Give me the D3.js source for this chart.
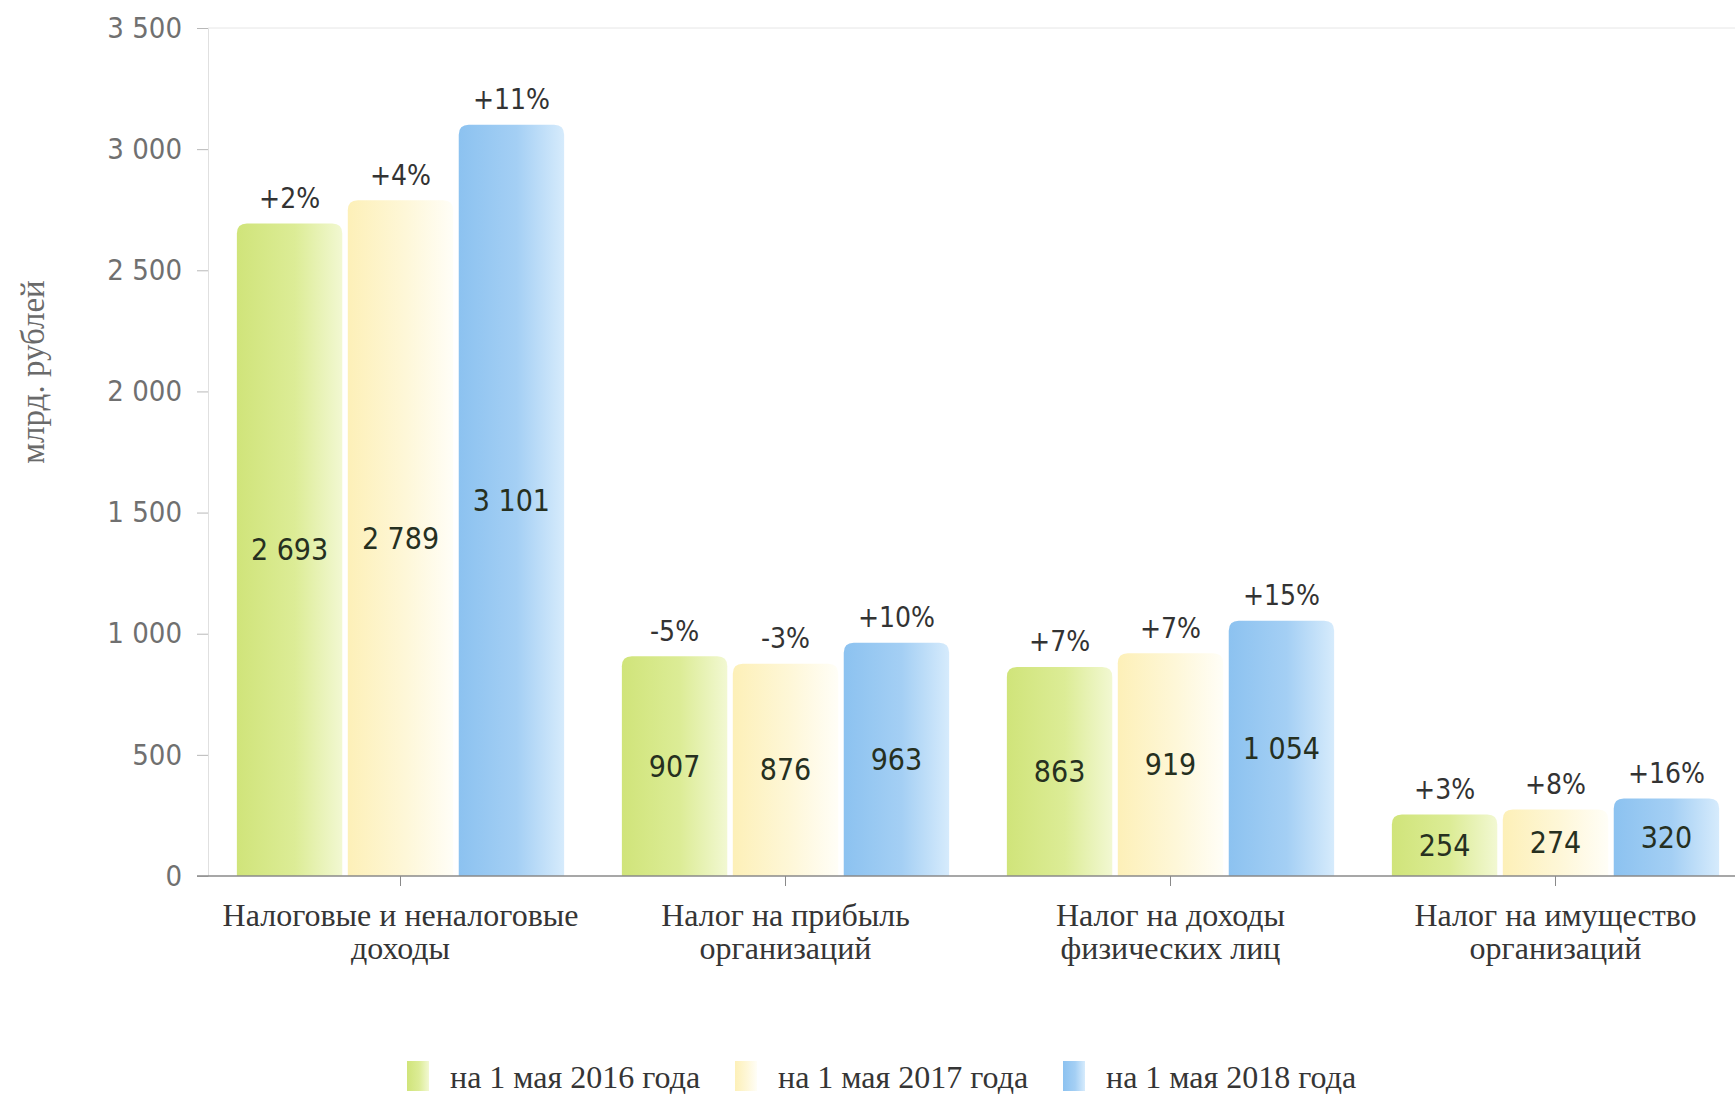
<html>
    <head>
        <meta charset="utf-8">
        <style>
            body {
                margin: 0;
                background: white;
            }

            svg {
                display: block;
            }

            .y .tick text {
                font-family: "DejaVu Sans Condensed", "Liberation Sans", sans-serif;
                font-size: 29px;
                fill: #707070;
            }

            .y .tick line {
                stroke: #b8b8b8;
            }

            .x .tick line {
                stroke: #8a8a8a;
            }

            .cat-label {
                font-family: "Liberation Serif", serif;
                font-size: 32px;
                fill: #353535;
            }

            .val-label {
                font-family: "DejaVu Sans Condensed", "Liberation Sans", sans-serif;
                font-size: 30px;
                fill: #26301f;
            }

            .pct-label {
                font-family: "DejaVu Sans Condensed", "Liberation Sans", sans-serif;
                font-size: 28px;
                fill: #333;
            }

            .legend {
                font-family: "Liberation Serif", serif;
                font-size: 32px;
                fill: #353535;
            }

            .y-title {
                font-family: "Liberation Serif", serif;
                font-size: 33px;
                fill: #6a6a6a;
            }
        </style>
    </head>

    <body>
        <svg width="1735" height="1101"></svg>

        <script src="https://d3js.org/d3.v7.min.js"></script>

        <script>

            // data
            let categories = [
                ["Налоговые и неналоговые", "доходы"],
                ["Налог на прибыль", "организаций"],
                ["Налог на доходы", "физических лиц"],
                ["Налог на имущество", "организаций"]
            ]

            let seriesNames = ["на 1 мая 2016 года", "на 1 мая 2017 года", "на 1 мая 2018 года"]

            let values2016 = [2693, 907, 863, 254]
            let values2017 = [2789, 876, 919, 274]
            let values2018 = [3101, 963, 1054, 320]

            let pct2016 = ["+2%", "-5%", "+7%", "+3%"]
            let pct2017 = ["+4%", "-3%", "+7%", "+8%"]
            let pct2018 = ["+11%", "+10%", "+15%", "+16%"]

            let yTicks = [0, 500, 1000, 1500, 2000, 2500, 3000, 3500]
            let yTickLabels = ["0", "500", "1 000", "1 500", "2 000", "2 500", "3 000", "3 500"]

            let yTitle = "млрд. рублей"

            // gradient stops for each series: left, middle, right
            let seriesColors = [
                ["#d0e47a", "#dcec96", "#f2f8d2"],
                ["#fdf0b8", "#fef7d8", "#fffef7"],
                ["#8cc2f0", "#a4cff4", "#d6ebfc"]
            ]

            let width = 1735
            let height = 1101
            let margin = {top: 28, bottom: 876, left: 208}

            let svg = d3.select("svg")

            let catKeys = categories.map(d => d[0])
            let allValues = [values2016, values2017, values2018]
            let allPct = [pct2016, pct2017, pct2018]

            let rows = []
            catKeys.forEach((c, i) => {
                seriesNames.forEach((s, j) => {
                    rows.push({cat: c, series: s, idx: j, value: allValues[j][i], pct: allPct[j][i]})
                })
            })

            let y = d3.scaleLinear()
                .domain([0, 3500])
                .range([margin.bottom, margin.top])

            let x0 = d3.scaleBand()
                .domain(catKeys)
                .range([margin.left, margin.left + 1540])
                .paddingInner(0.15)
                .paddingOuter(0.075)

            let x1 = d3.scaleBand()
                .domain(seriesNames)
                .range([0, x0.bandwidth()])
                .paddingInner(0.05)

            // gradients
            let defs = svg.append("defs")
            seriesNames.forEach((s, j) => {
                let g = defs.append("linearGradient")
                    .attr("id", "grad" + j)
                    .attr("x1", "0%").attr("x2", "100%")
                    .attr("y1", "0%").attr("y2", "0%")
                g.append("stop").attr("offset", "0%").attr("stop-color", seriesColors[j][0])
                g.append("stop").attr("offset", "55%").attr("stop-color", seriesColors[j][1])
                g.append("stop").attr("offset", "100%").attr("stop-color", seriesColors[j][2])
            })

            // faint top line
            svg.append("line")
                .attr("x1", margin.left)
                .attr("x2", width)
                .attr("y1", y(3500))
                .attr("y2", y(3500))
                .attr("stroke", "#e6e6e6")

            // y axis
            let yAxis = svg.append("g")
                .attr("class", "y axis")
                .attr("transform", `translate(${margin.left}, 0)`)
                .call(d3.axisLeft(y)
                    .tickValues(yTicks)
                    .tickFormat((d, i) => yTickLabels[i])
                    .tickSize(11)
                    .tickPadding(15))
            yAxis.select(".domain")
                .attr("stroke", "#e0e0e0")

            // bars with rounded tops
            function barPath(x, yTop, w, h, r) {
                r = Math.min(r, h, w / 2)
                return `M${x},${yTop + h}` +
                    `V${yTop + r}` +
                    `Q${x},${yTop} ${x + r},${yTop}` +
                    `H${x + w - r}` +
                    `Q${x + w},${yTop} ${x + w},${yTop + r}` +
                    `V${yTop + h}Z`
            }

            let bars = svg.append("g").attr("class", "bars")

            bars.selectAll("path")
                .data(rows)
                .join("path")
                .attr("fill", d => `url(#grad${d.idx})`)
                .attr("d", d => barPath(
                    x0(d.cat) + x1(d.series),
                    y(d.value),
                    x1.bandwidth(),
                    y(0) - y(d.value),
                    10))

            // x axis
            let xAxis = svg.append("g")
                .attr("class", "x axis")
                .attr("transform", `translate(0, ${y(0)})`)
                .call(d3.axisBottom(x0).tickSize(10).tickSizeOuter(0).tickFormat(""))
            xAxis.select(".domain").remove()

            svg.append("line")
                .attr("x1", margin.left - 11)
                .attr("x2", width)
                .attr("y1", y(0))
                .attr("y2", y(0))
                .attr("stroke", "#8a8a8a")
                .attr("stroke-width", 1.5)

            // value labels in the middle of each bar
            let fmt = d3.formatLocale({decimal: ",", thousands: " ", grouping: [3], currency: ["", ""]}).format(",d")

            svg.append("g")
                .selectAll("text")
                .data(rows)
                .join("text")
                .attr("class", "val-label")
                .attr("text-anchor", "middle")
                .attr("dominant-baseline", "central")
                .attr("x", d => x0(d.cat) + x1(d.series) + x1.bandwidth() / 2)
                .attr("y", d => (y(d.value) + y(0)) / 2)
                .attr("fill", d => d.idx == 2 ? "#1f2d3d" : "#28301c")
                .text(d => fmt(d.value))

            // percentage labels above each bar
            svg.append("g")
                .selectAll("text")
                .data(rows)
                .join("text")
                .attr("class", "pct-label")
                .attr("text-anchor", "middle")
                .attr("dominant-baseline", "central")
                .attr("x", d => x0(d.cat) + x1(d.series) + x1.bandwidth() / 2)
                .attr("y", d => y(d.value) - 25)
                .text(d => d.pct)

            // category labels, two lines
            let cats = svg.append("g")
                .selectAll("text")
                .data(categories)
                .join("text")
                .attr("class", "cat-label")
                .attr("text-anchor", "middle")
                .attr("x", d => x0(d[0]) + x0.bandwidth() / 2)
                .attr("y", y(0) + 50)

            cats.selectAll("tspan")
                .data(d => d)
                .join("tspan")
                .attr("x", function () { return d3.select(this.parentNode).attr("x") })
                .attr("dy", (d, i) => i == 0 ? 0 : 33)
                .text(d => d)

            // y title
            svg.append("text")
                .attr("class", "y-title")
                .attr("text-anchor", "middle")
                .attr("transform", "translate(44, 372) rotate(-90)")
                .text(yTitle)

            // legend
            let legend = svg.append("g")
                .selectAll("g")
                .data(seriesNames)
                .join("g")
                .attr("transform", (d, i) => `translate(${407 + i * 328}, 1061)`)

            legend.append("rect")
                .attr("width", 22)
                .attr("height", 30)
                .attr("fill", (d, i) => `url(#grad${i})`)

            legend.append("text")
                .attr("class", "legend")
                .attr("x", 43)
                .attr("y", 27)
                .text(d => d)

        </script>
    </body>
</html>
